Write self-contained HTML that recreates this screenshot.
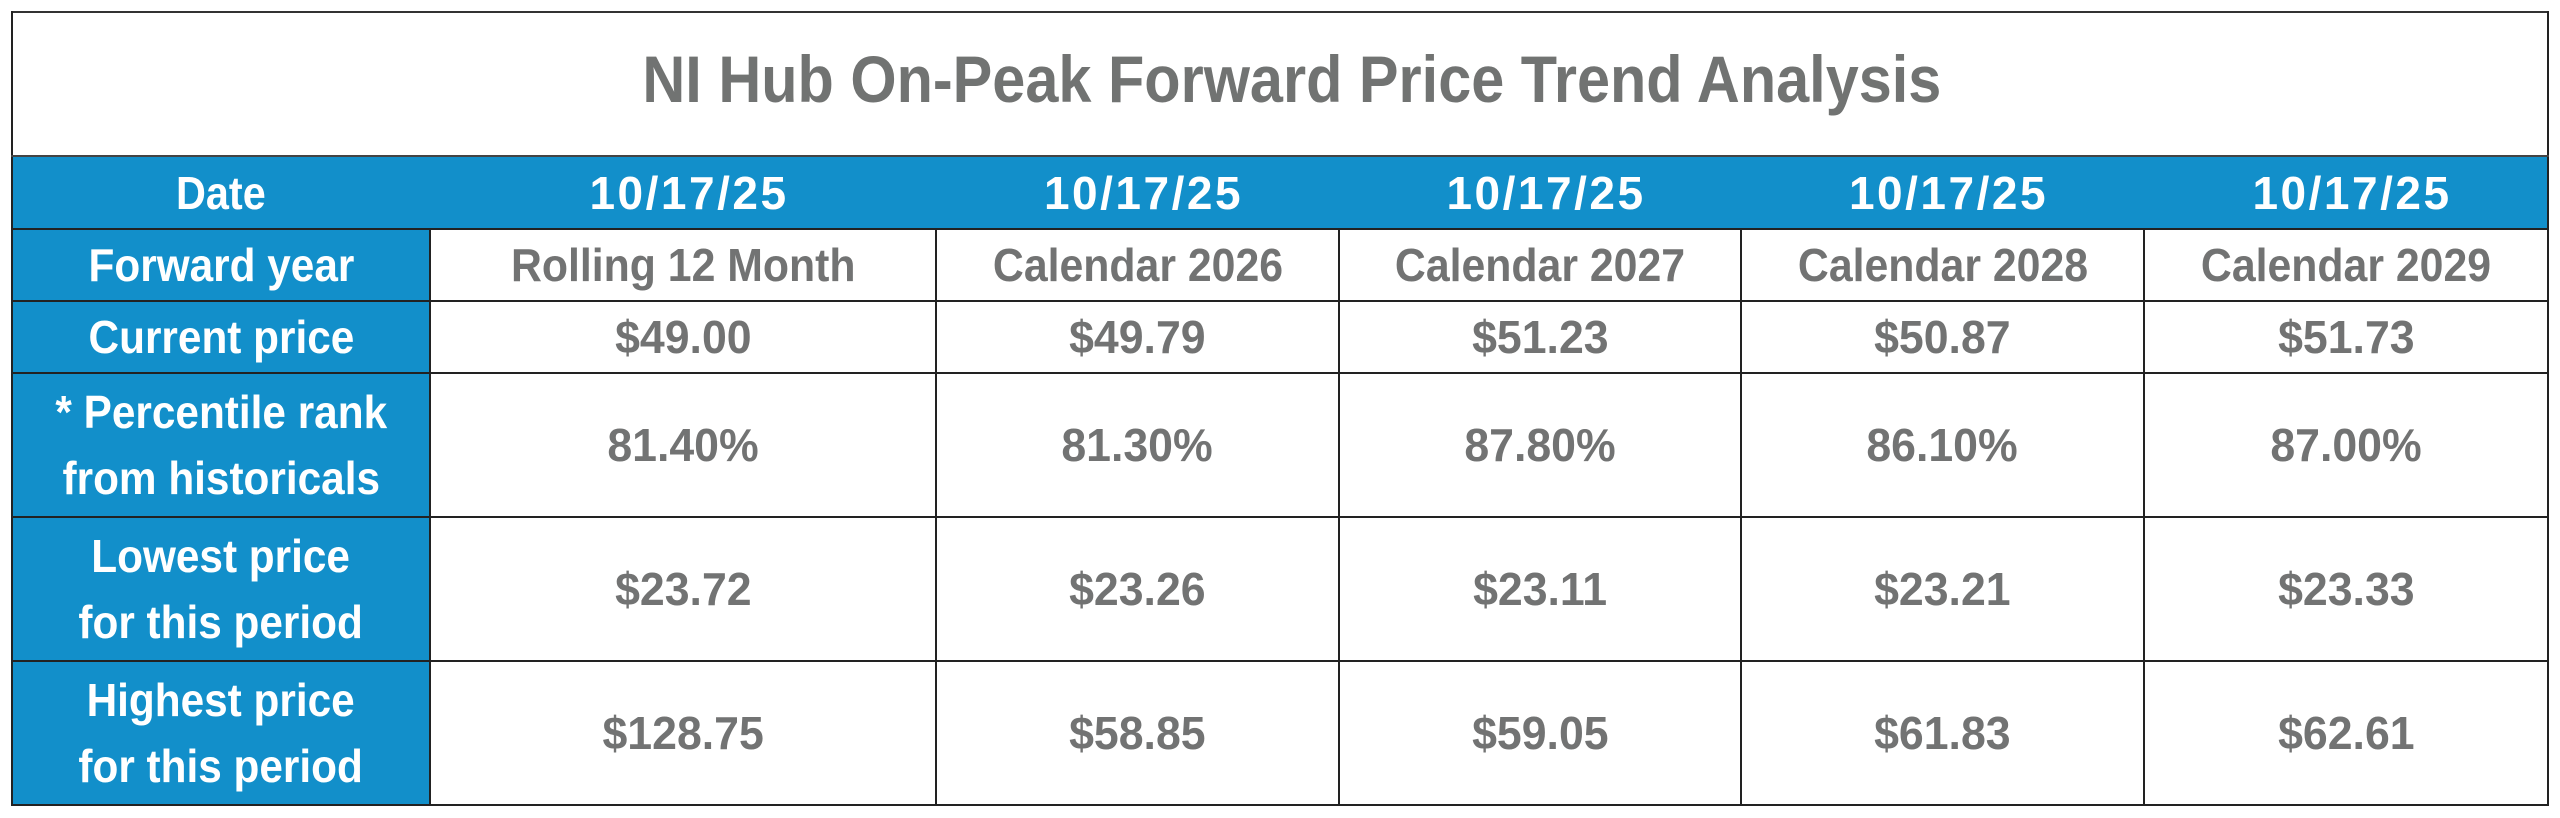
<!DOCTYPE html>
<html><head><meta charset="utf-8"><style>
html,body{margin:0;padding:0;background:#fff;}
#root{position:relative;width:2560px;height:818px;overflow:hidden;background:#fff;}
.c{position:absolute;display:flex;align-items:center;justify-content:center;text-align:center;font-family:"Liberation Sans",Arial,sans-serif;font-weight:bold;font-size:46px;white-space:nowrap;}
.b{background:#128fca;}
.w{color:#fff;}
.g{color:#727373;}
.s{display:inline-block;transform:scaleX(.93);}
.n{display:inline-block;transform:scaleX(.97);}
.l{display:inline-block;transform:scaleX(.92);line-height:66px;}
.d{display:inline-block;letter-spacing:2.5px;padding-left:12px;}
.h{position:absolute;height:2px;background:#222;}
.v{position:absolute;width:2px;background:#222;}
.title{position:absolute;left:0;width:2560px;top:47px;line-height:1;text-align:center;font-family:"Liberation Sans",Arial,sans-serif;font-weight:bold;font-size:65.6px;color:#717372;white-space:nowrap;}
.title span{display:inline-block;transform:translateX(12px) scaleX(.906);}
</style></head><body><div id="root">

<div class="title"><span>NI Hub On-Peak Forward Price Trend Analysis</span></div>

<!-- Date row band -->
<div class="b" style="position:absolute;left:12px;top:156px;width:2536px;height:73px;"></div>
<!-- first column blue -->
<div class="b" style="position:absolute;left:12px;top:229px;width:418px;height:576px;"></div>

<!-- Date row -->
<div class="c w" style="left:12px;top:156px;width:418px;height:73px;"><span class="l" style="transform:scaleX(.9)">Date</span></div>
<div class="c w" style="left:430px;top:156px;width:506px;height:73px;"><span class="d">10/17/25</span></div>
<div class="c w" style="left:936px;top:156px;width:403px;height:73px;"><span class="d">10/17/25</span></div>
<div class="c w" style="left:1339px;top:156px;width:402px;height:73px;"><span class="d">10/17/25</span></div>
<div class="c w" style="left:1741px;top:156px;width:403px;height:73px;"><span class="d">10/17/25</span></div>
<div class="c w" style="left:2144px;top:156px;width:404px;height:73px;"><span class="d">10/17/25</span></div>

<!-- Forward year -->
<div class="c w" style="left:12px;top:229px;width:418px;height:72px;"><span class="l">Forward year</span></div>
<div class="c g" style="left:430px;top:229px;width:506px;height:72px;"><span class="s">Rolling 12 Month</span></div>
<div class="c g" style="left:936px;top:229px;width:403px;height:72px;"><span class="s">Calendar 2026</span></div>
<div class="c g" style="left:1339px;top:229px;width:402px;height:72px;"><span class="s">Calendar 2027</span></div>
<div class="c g" style="left:1741px;top:229px;width:403px;height:72px;"><span class="s">Calendar 2028</span></div>
<div class="c g" style="left:2144px;top:229px;width:404px;height:72px;"><span class="s">Calendar 2029</span></div>

<!-- Current price -->
<div class="c w" style="left:12px;top:301px;width:418px;height:72px;"><span class="l">Current price</span></div>
<div class="c g" style="left:430px;top:301px;width:506px;height:72px;"><span class="n">$49.00</span></div>
<div class="c g" style="left:936px;top:301px;width:403px;height:72px;"><span class="n">$49.79</span></div>
<div class="c g" style="left:1339px;top:301px;width:402px;height:72px;"><span class="n">$51.23</span></div>
<div class="c g" style="left:1741px;top:301px;width:403px;height:72px;"><span class="n">$50.87</span></div>
<div class="c g" style="left:2144px;top:301px;width:404px;height:72px;"><span class="n">$51.73</span></div>

<!-- Percentile -->
<div class="c w" style="left:12px;top:373px;width:418px;height:144px;"><span class="l">* Percentile rank<br>from historicals</span></div>
<div class="c g" style="left:430px;top:373px;width:506px;height:144px;"><span class="n">81.40%</span></div>
<div class="c g" style="left:936px;top:373px;width:403px;height:144px;"><span class="n">81.30%</span></div>
<div class="c g" style="left:1339px;top:373px;width:402px;height:144px;"><span class="n">87.80%</span></div>
<div class="c g" style="left:1741px;top:373px;width:403px;height:144px;"><span class="n">86.10%</span></div>
<div class="c g" style="left:2144px;top:373px;width:404px;height:144px;"><span class="n">87.00%</span></div>

<!-- Lowest -->
<div class="c w" style="left:12px;top:517px;width:418px;height:144px;"><span class="l">Lowest price<br>for this period</span></div>
<div class="c g" style="left:430px;top:517px;width:506px;height:144px;"><span class="n">$23.72</span></div>
<div class="c g" style="left:936px;top:517px;width:403px;height:144px;"><span class="n">$23.26</span></div>
<div class="c g" style="left:1339px;top:517px;width:402px;height:144px;"><span class="n">$23.11</span></div>
<div class="c g" style="left:1741px;top:517px;width:403px;height:144px;"><span class="n">$23.21</span></div>
<div class="c g" style="left:2144px;top:517px;width:404px;height:144px;"><span class="n">$23.33</span></div>

<!-- Highest -->
<div class="c w" style="left:12px;top:661px;width:418px;height:144px;"><span class="l">Highest price<br>for this period</span></div>
<div class="c g" style="left:430px;top:661px;width:506px;height:144px;"><span class="n">$128.75</span></div>
<div class="c g" style="left:936px;top:661px;width:403px;height:144px;"><span class="n">$58.85</span></div>
<div class="c g" style="left:1339px;top:661px;width:402px;height:144px;"><span class="n">$59.05</span></div>
<div class="c g" style="left:1741px;top:661px;width:403px;height:144px;"><span class="n">$61.83</span></div>
<div class="c g" style="left:2144px;top:661px;width:404px;height:144px;"><span class="n">$62.61</span></div>

<!-- outer border -->
<div class="h" style="left:11px;top:11px;width:2538px;background:#333;"></div>
<div class="h" style="left:11px;top:804px;width:2538px;"></div>
<div class="v" style="left:11px;top:11px;height:795px;"></div>
<div class="v" style="left:2547px;top:11px;height:795px;"></div>

<!-- horizontal lines -->
<div class="h" style="left:11px;top:155px;width:2538px;background:#444;"></div>
<div class="h" style="left:11px;top:228px;width:2538px;"></div>
<div class="h" style="left:11px;top:300px;width:2538px;"></div>
<div class="h" style="left:11px;top:372px;width:2538px;"></div>
<div class="h" style="left:11px;top:516px;width:2538px;"></div>
<div class="h" style="left:11px;top:660px;width:2538px;"></div>

<!-- vertical lines -->
<div class="v" style="left:429px;top:228px;height:578px;"></div>
<div class="v" style="left:935px;top:228px;height:578px;"></div>
<div class="v" style="left:1338px;top:228px;height:578px;"></div>
<div class="v" style="left:1740px;top:228px;height:578px;"></div>
<div class="v" style="left:2143px;top:228px;height:578px;"></div>

</div></body></html>
